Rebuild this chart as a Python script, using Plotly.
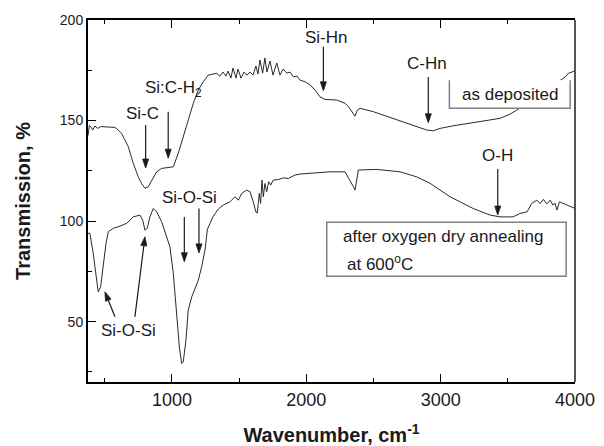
import math
import plotly.graph_objects as go

# FTIR transmission spectra of the SiC:H film
# as deposited (upper trace)
wn_dep = [375, 385, 397, 410, 427, 445, 470, 500, 530, 575, 600, 625, 650, 675,
          712, 749, 774, 799, 823, 849, 886, 923, 972, 1010, 1047, 1084, 1121,
          1159, 1196, 1233, 1270, 1305, 1333, 1357, 1380, 1402, 1417, 1439,
          1454, 1477, 1491, 1514, 1536, 1558, 1581, 1603, 1625, 1640, 1655,
          1675, 1692, 1707, 1730, 1752, 1780, 1804, 1827, 1854, 1879, 1903,
          1931, 1953, 1990, 2028, 2065, 2102, 2139, 2226, 2288, 2313, 2338,
          2363, 2380, 2400, 2499, 2623, 2747, 2834, 2896, 2946, 2996, 3095,
          3219, 3343, 3442, 3517, 3567, 3650, 3750, 3850, 3889, 3914, 3934,
          3951, 3976, 3995]
tr_dep = [142.5, 147.5, 146.9, 145.3, 147.3, 146.1, 147.0, 146.9, 146.6, 146.6,
          145.3, 143.6, 140.3, 137.0, 128.7, 122.0, 118.7, 116.3, 117.1, 120.4,
          124.5, 126.2, 126.5, 127.0, 133.7, 142.0, 150.3, 158.6, 165.2, 169.3,
          172.6, 173.1, 173.5, 172.1, 174.1, 172.1, 174.6, 171.1, 176.1, 171.1,
          175.6, 171.1, 174.1, 172.6, 174.1, 172.6, 177.1, 173.1, 180.1, 173.6,
          181.1, 174.1, 179.6, 172.6, 178.6, 172.6, 175.6, 173.6, 174.1, 171.8,
          172.1, 170.1, 169.3, 167.7, 165.2, 161.8, 160.5, 160.2, 158.6, 156.9,
          154.4, 152.2, 155.2, 156.1, 154.4, 151.6, 148.9, 146.9, 145.3, 144.9,
          146.1, 147.4, 148.6, 149.9, 151.1, 153.2, 155.2, 159.0, 164.0, 168.0,
          169.8, 171.0, 172.1, 173.5, 174.3, 174.6]

# after oxygen dry annealing at 600 C (lower trace)
wn_ann = [375, 389, 414, 439, 451, 469, 488, 509, 526, 563, 613, 663, 712, 762,
          782, 799, 816, 836, 861, 886, 923, 961, 985, 1010, 1035, 1055, 1072,
          1084, 1104, 1121, 1147, 1171, 1196, 1221, 1246, 1264, 1308, 1345,
          1382, 1432, 1469, 1494, 1519, 1556, 1581, 1605, 1625, 1635, 1650,
          1660, 1670, 1680, 1692, 1705, 1720, 1735, 1754, 1791, 1829, 1866,
          1916, 1953, 2028, 2176, 2288, 2325, 2348, 2363, 2378, 2387, 2524,
          2698, 2822, 2921, 3070, 3241, 3368, 3442, 3539, 3591, 3643, 3678,
          3716, 3740, 3765, 3790, 3815, 3835, 3852, 3865, 3884, 3914, 3951,
          4000]
tr_ann = [94.0, 93.9, 83.9, 70.6, 64.8, 67.3, 77.3, 88.9, 94.7, 96.4, 97.5, 98.9,
          102.1, 103.0, 100.5, 95.5, 96.4, 102.1, 106.3, 104.6, 99.7, 92.2, 87.2,
          74.0, 52.4, 37.5, 29.2, 30.0, 40.8, 55.7, 62.3, 66.5, 70.6, 77.3, 85.6,
          96.0, 102.5, 106.0, 108.0, 109.6, 112.1, 110.4, 113.8, 115.4, 114.6,
          109.6, 104.5, 104.0, 113.8, 108.8, 120.4, 112.1, 118.7, 114.6, 119.6,
          117.9, 120.4, 120.7, 121.5, 121.2, 122.9, 123.4, 123.7, 124.5, 124.5,
          120.4, 117.4, 115.4, 121.4, 125.4, 125.7, 124.5, 122.0, 118.8, 112.1,
          106.3, 103.0, 102.1, 102.1, 103.8, 104.6, 108.8, 110.4, 108.8, 110.8,
          108.5, 110.4, 108.0, 108.8, 105.5, 109.6, 108.8, 108.0, 106.3]

FONT = "Liberation Sans, Arial, sans-serif"
INK = "#1a1a1a"
BOX = "#808080"

W, H = 604, 446
ML, MR, MT, MB = 88, 29, 20, 64
XR = [375, 4000]
YR = [20, 200]
sx = (W - ML - MR) / (XR[1] - XR[0])   # px per wavenumber unit
sy = (H - MT - MB) / (YR[1] - YR[0])   # px per % unit

fig = go.Figure()
for wn, tr in ((wn_dep, tr_dep), (wn_ann, tr_ann)):
    fig.add_trace(go.Scatter(x=wn, y=tr, mode="lines",
                             line=dict(color="#2a2a2a", width=1),
                             showlegend=False, hoverinfo="skip"))

# band labels
labels = [
    ("Si-C", 780, 153.6),
    ("Si:C-H<sub>2</sub>", 1015, 165.5),
    ("Si-Hn", 2147, 191.5),
    ("C-Hn", 2899, 178.6),
    ("O-H", 3420, 132.8),
    ("Si-O-Si", 1134, 111.7),
    ("Si-O-Si", 676, 45.5),
]
for txt, x, y in labels:
    fig.add_annotation(x=x, y=y, text=txt, showarrow=False,
                       font=dict(family=FONT, size=17, color=INK))

# pointer arrows: (tail x, tail y, head x, head y)
arrows = [
    (804, 147.8, 804, 126.4),
    (972, 154.4, 972, 131.3),
    (2127, 186.7, 2127, 164.8),
    (2908, 171.6, 2908, 148.9),
    (3425, 125.9, 3425, 103.0),
    (1092, 102.1, 1092, 79.8),
    (1201, 106.3, 1201, 84.2),
    (576, 52.4, 501, 64.8),
    (724, 52.4, 799, 92.2),
]
HEAD_LEN, HEAD_HALF = 9.0, 3.0
for tx, ty, hx, hy in arrows:
    dx, dy = (hx - tx) * sx, (hy - ty) * sy
    n = math.hypot(dx, dy)
    ux, uy = dx / n, dy / n
    bx, by = hx - ux * HEAD_LEN / sx, hy - uy * HEAD_LEN / sy
    px_, py_ = -uy * HEAD_HALF, ux * HEAD_HALF
    fig.add_shape(type="line", x0=tx, y0=ty, x1=bx, y1=by, xref="x", yref="y",
                  line=dict(color=INK, width=1.2), layer="above")
    p1 = (bx + px_ / sx, by + py_ / sy)
    p2 = (bx - px_ / sx, by - py_ / sy)
    fig.add_shape(type="path", xref="x", yref="y", layer="above",
                  path=f"M {hx},{hy} L {p1[0]},{p1[1]} L {p2[0]},{p2[1]} Z",
                  fillcolor=INK, line=dict(color=INK, width=0.8))

# "as deposited" legend box (open at the top)
fig.add_shape(type="rect", x0=3065, x1=3964, y0=156.1, y1=170.1,
              xref="x", yref="y", fillcolor="white", line=dict(width=0),
              layer="above")
fig.add_shape(type="path", path="M 3065,170.1 L 3065,156.1 L 3964,156.1 L 3964,170.1",
              xref="x", yref="y", line=dict(color=BOX, width=1.5), layer="above")
fig.add_annotation(x=3517, y=163.2, text="as deposited", showarrow=False,
                   font=dict(family=FONT, size=17, color=INK))

# annealed-sample legend box
fig.add_shape(type="rect", x0=2152, x1=3934, y0=72.6, y1=99.4,
              xref="x", yref="y", fillcolor="white",
              line=dict(color=BOX, width=1.5), layer="above")
fig.add_annotation(x=2256, y=92.5, text="after oxygen dry annealing",
                   showarrow=False, xanchor="left",
                   font=dict(family=FONT, size=17, color=INK))
fig.add_annotation(x=2288, y=79.1, text="at 600<sup>o</sup>C",
                   showarrow=False, xanchor="left",
                   font=dict(family=FONT, size=17, color=INK))

# right frame edge
fig.add_shape(type="line", xref="paper", yref="paper", x0=1, x1=1, y0=0, y1=1,
              line=dict(color="#555555", width=2), layer="above")

fig.update_xaxes(range=XR, tickvals=[1000, 2000, 3000, 4000],
                 ticks="inside", ticklen=8, tickwidth=1.2, tickcolor="black",
                 minor=dict(ticks="inside", ticklen=4, tickwidth=1.2,
                            tickvals=[500, 1500, 2500, 3500], tickcolor="black"),
                 showline=True, linecolor="black", linewidth=2, mirror="allticks",
                 showgrid=False, zeroline=False,
                 tickfont=dict(family=FONT, size=18, color=INK),
                 title=dict(text="<b>Wavenumber, cm<sup>-1</sup></b>", standoff=20,
                            font=dict(family=FONT, size=20, color=INK)),
                 automargin=False)
fig.update_yaxes(range=YR, tickvals=[50, 100, 150, 200],
                 ticks="inside", ticklen=8, tickwidth=1.2, tickcolor="black",
                 minor=dict(ticks="inside", ticklen=4, tickwidth=1.2,
                            tickvals=[25, 75, 125, 175], tickcolor="black"),
                 showline=True, linecolor="black", linewidth=2, mirror=False,
                 showgrid=False, zeroline=False,
                 tickfont=dict(family=FONT, size=14, color=INK),
                 title=dict(text="<b>Transmission, %</b>", standoff=24,
                            font=dict(family=FONT, size=20, color=INK)),
                 automargin=False)

fig.update_layout(width=W, height=H,
                  margin=dict(l=ML, r=MR, t=MT, b=MB),
                  paper_bgcolor="white", plot_bgcolor="white")

fig.write_html("out.html")
